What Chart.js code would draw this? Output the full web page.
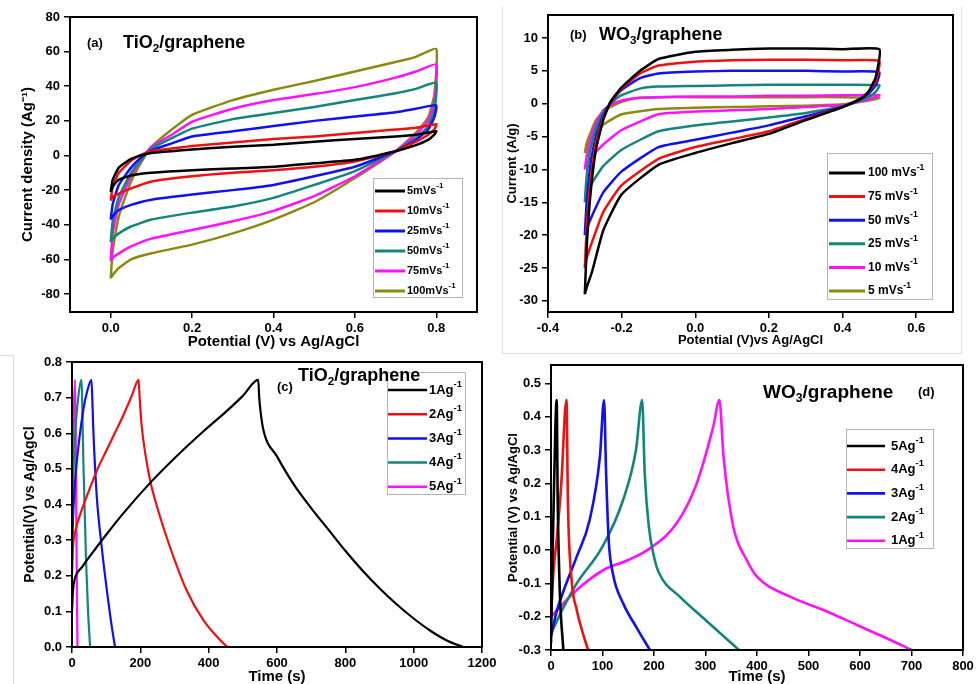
<!DOCTYPE html>
<html>
<head>
<meta charset="utf-8">
<script src="https://cdn.jsdelivr.net/npm/chart.js@4.4.1/dist/chart.umd.min.js"></script>
<style>
  html, body { margin: 0; padding: 0; background: #fff; width: 976px; height: 684px; overflow: hidden; }
  canvas { position: absolute; }
  .rule { position: absolute; border: 0 solid #dcdcdc; }
</style>
</head>
<body>
<div class="rule" style="left:502px;top:6px;width:458px;height:347px;border-left-width:1px;border-right-width:1px;border-bottom-width:1px;"></div>
<div class="rule" style="left:-1px;top:355px;width:14px;height:340px;border-right-width:1px;border-top-width:1px;"></div>
<canvas id="cvA" width="490" height="352" style="left:0;top:0"></canvas>
<canvas id="cvB" width="496" height="352" style="left:480px;top:0"></canvas>
<canvas id="cvC" width="500" height="350" style="left:0;top:340px"></canvas>
<canvas id="cvD" width="488" height="350" style="left:490px;top:340px"></canvas>
<script>
// ---- (a) TiO2/graphene CV : one closed loop per scan rate (forward then reverse sweep)
const aPotential = [0, 0.005, 0.02, 0.05, 0.08, 0.1, 0.15, 0.2, 0.3, 0.4, 0.5, 0.6, 0.7, 0.75, 0.8,
                    0.795, 0.78, 0.75, 0.7, 0.6, 0.5, 0.4, 0.3, 0.2, 0.1, 0.05, 0.02, 0.005, 0];
const a5   = [-21, -14, -7, -2, 0.5, 1.5, 2.5, 3.5, 5, 6.2, 8, 9.5, 11, 12, 14,
              12, 9, 6, 2.5, -2.5, -4.5, -6.5, -7.5, -8.5, -10, -11.5, -14, -18, -21];
const a10  = [-26, -18, -10, -3, 1, 2.5, 4, 5.5, 7.5, 9.5, 11, 13, 15, 16, 18,
              15, 12, 8, 2.5, -3.5, -6.5, -8.5, -10, -12, -15, -19, -22, -24, -26];
const a25  = [-37, -28, -17, -7, 0, 3, 7, 11, 14, 17, 20, 22.5, 25, 27, 29,
              22, 15, 9, 2.5, -6.5, -12, -17, -20, -22.5, -25.5, -28.5, -31.5, -35, -37];
const a50  = [-50, -38, -24, -10, -1, 4, 10, 15.5, 21, 24.5, 28, 32, 36, 38.5, 42,
              26, 17, 10, 2.5, -9, -17, -24.5, -29.5, -33, -37, -41, -45, -48, -50];
const a75  = [-61, -45, -28, -12, -1, 5, 12, 19.5, 27, 32, 35.5, 39.5, 45, 48.5, 52.5,
              30, 20, 12, 2.5, -12, -23.5, -32, -38, -43, -48, -52.5, -56.5, -59, -61];
const a100 = [-71, -55, -35, -15, -2, 5, 15, 23.5, 32, 38, 43, 48.5, 54, 57, 61.5,
              35, 22, 13, 2.5, -13, -27, -37, -45, -51.5, -56.5, -60, -65, -69, -71];
const aLabels = ['5mVs^-1', '10mVs^-1', '25mVs^-1', '50mVs^-1', '75mVs^-1', '100mVs^-1'];
const aXTicks = [0, 0.2, 0.4, 0.6, 0.8];
const aYTicks = [-80, -60, -40, -20, 0, 20, 40, 60, 80];

// ---- (b) WO3/graphene CV
const bPotential = [-0.3, -0.295, -0.285, -0.27, -0.25, -0.23, -0.2, -0.15, -0.1, 0, 0.1, 0.2, 0.3, 0.4, 0.5,
                    0.49, 0.47, 0.45, 0.4, 0.3, 0.2, 0.1, 0, -0.1, -0.2, -0.25, -0.28, -0.295, -0.3];
const b100 = [-29, -22, -14, -7, -2.5, 0.3, 2.5, 5.0, 6.8, 7.9, 8.2, 8.4, 8.4, 8.3, 8.3,
              4.0, 1.8, 0.8, -0.5, -2.5, -4.6, -6.0, -7.5, -9.3, -13.8, -19.3, -25.5, -28, -29];
const b75  = [-25, -19, -12, -6, -2.2, 0.2, 2.3, 4.6, 5.8, 6.4, 6.6, 6.7, 6.7, 6.6, 6.5,
              3.5, 1.8, 0.8, -0.5, -2.3, -4.2, -5.4, -6.6, -8.4, -12.4, -16.5, -21, -23.5, -25];
const b50  = [-20, -15, -9.5, -5, -1.8, 0.1, 2.1, 3.9, 4.6, 4.9, 5.0, 5.0, 5.0, 4.9, 4.8,
              2.8, 1.5, 0.7, -0.5, -1.9, -3.3, -4.4, -5.5, -6.6, -10.3, -13.5, -17, -19, -20];
const b25  = [-15, -11, -7, -3.8, -1.3, 0, 1.3, 2.3, 2.6, 2.7, 2.8, 2.9, 2.9, 2.9, 2.8,
              1.8, 1.0, 0.5, -0.4, -1.4, -2.1, -2.7, -3.3, -4.2, -7.0, -9.5, -12, -14, -15];
const b10  = [-10, -8, -5.5, -3, -1, -0.2, 0.5, 0.9, 1.0, 1.1, 1.1, 1.2, 1.2, 1.3, 1.3,
              1.0, 0.6, 0.4, -0.2, -0.5, -0.8, -1.0, -1.2, -1.6, -4.0, -6.2, -8.0, -9.3, -10];
const b5   = [-7.5, -6, -4.5, -2.5, -1.2, -0.5, 0.3, 0.9, 1.0, 1.0, 1.0, 1.0, 1.0, 1.0, 0.9,
              0.7, 0.5, 0.3, -0.1, -0.3, -0.4, -0.5, -0.6, -0.8, -1.6, -3.2, -5.0, -6.5, -7.5];
const bLabels = ['100 mVs^-1', '75 mVs^-1', '50 mVs^-1', '25 mVs^-1', '10 mVs^-1', '5 mVs^-1'];
const bXTicks = [-0.4, -0.2, 0, 0.2, 0.4, 0.6];
const bYTicks = [-30, -25, -20, -15, -10, -5, 0, 5, 10];

// ---- (c) TiO2/graphene charge-discharge
const c1Time = [0, 3, 8, 30, 72, 100, 150, 228, 300, 384, 450, 500, 545,
                548, 552, 560, 600, 650, 700, 750, 800, 850, 900, 950, 1000, 1050, 1100, 1145];
const c1Volt = [0.10, 0.16, 0.19, 0.225, 0.28, 0.315, 0.375, 0.46, 0.53, 0.605, 0.66, 0.705, 0.75,
                0.70, 0.66, 0.61, 0.535, 0.455, 0.39, 0.33, 0.27, 0.215, 0.165, 0.12, 0.08, 0.045, 0.017, 0];
const c2Time = [0, 3, 10, 25, 50, 75, 100, 125, 150, 175, 195, 198, 204, 215, 228, 250, 287, 335, 384, 433, 455];
const c2Volt = [0.20, 0.28, 0.325, 0.375, 0.44, 0.50, 0.55, 0.60, 0.65, 0.705, 0.75, 0.70, 0.62, 0.54, 0.47, 0.39, 0.28, 0.16, 0.076, 0.02, 0];
const c3Time = [0, 3, 8, 14, 33, 45, 57, 60, 62, 72, 87, 106, 116, 126];
const c3Volt = [0.25, 0.36, 0.45, 0.52, 0.665, 0.72, 0.75, 0.68, 0.62, 0.43, 0.28, 0.13, 0.06, 0];
const c4Time = [0, 3, 8, 16, 28, 30, 33, 41, 47, 53];
const c4Volt = [0.30, 0.45, 0.58, 0.68, 0.75, 0.68, 0.53, 0.245, 0.10, 0];
const c5Time = [0, 2, 5, 9, 11, 13, 16];
const c5Volt = [0.30, 0.52, 0.66, 0.75, 0.60, 0.30, 0];
const cLabels = ['1Ag^-1', '2Ag^-1', '3Ag^-1', '4Ag^-1', '5Ag^-1'];
const cXTicks = [0, 200, 400, 600, 800, 1000, 1200];
const cYTicks = [0, 0.1, 0.2, 0.3, 0.4, 0.5, 0.6, 0.7, 0.8];

// ---- (d) WO3/graphene charge-discharge
const d5Time = [0, 3, 6, 11, 13, 17, 24];
const d5Volt = [-0.28, -0.02, 0.2, 0.45, 0.15, -0.12, -0.3];
const d4Time = [0, 5, 11, 20, 30, 33, 40, 50, 60, 72];
const d4Volt = [-0.2, -0.06, 0.03, 0.2, 0.45, 0.13, -0.09, -0.18, -0.24, -0.3];
const d3Time = [0, 10, 25, 50, 75, 95, 103, 107, 112, 120, 140, 165, 192];
const d3Volt = [-0.26, -0.19, -0.12, -0.02, 0.09, 0.28, 0.45, 0.23, 0.03, -0.07, -0.16, -0.23, -0.3];
const d2Time = [0, 25, 50, 100, 140, 165, 177, 182, 190, 200, 210, 250, 300, 365];
const d2Volt = [-0.25, -0.17, -0.1, 0.01, 0.15, 0.3, 0.45, 0.23, 0.07, -0.02, -0.07, -0.14, -0.21, -0.3];
const d1Time = [0, 50, 102, 150, 192, 244, 283, 315, 327, 335, 354, 380, 400, 464, 529, 594, 659, 700];
const d1Volt = [-0.2, -0.12, -0.06, -0.03, 0.005, 0.08, 0.2, 0.37, 0.45, 0.28, 0.07, -0.03, -0.08, -0.14, -0.18, -0.225, -0.27, -0.3];
const dLabels = ['5Ag^-1', '4Ag^-1', '3Ag^-1', '2Ag^-1', '1Ag^-1'];
const dXTicks = [0, 100, 200, 300, 400, 500, 600, 700, 800];
const dYTicks = [-0.3, -0.2, -0.1, 0, 0.1, 0.2, 0.3, 0.4, 0.5];

const FONT = '"Liberation Sans", Arial, Helvetica, sans-serif';
const BLACK = '#000000', RED = '#f01010', BLUE = '#1010f0', TEAL = '#14857a', MAGENTA = '#ff10ff', OLIVE = '#8a8a10';

const pairs = (xs, ys) => xs.map((x, i) => ({ x: x, y: ys[i] }));

// text with _2 subscripts and ^-1 superscripts, y = middle of the normal text
function drawRich(ctx, text, x, y, size) {
  const parts = text.split(/(_\d+|\^-?\d+)/).filter(s => s);
  ctx.save();
  ctx.fillStyle = '#000';
  ctx.textBaseline = 'middle';
  ctx.textAlign = 'left';
  let cx = x;
  parts.forEach(p => {
    let s = p, fs = size, dy = 0;
    if (p[0] === '_') { s = p.slice(1); fs = size * 0.65; dy = size * 0.3; }
    else if (p[0] === '^') { s = p.slice(1); fs = size * 0.72; dy = -size * 0.45; }
    ctx.font = 'bold ' + fs + 'px ' + FONT;
    ctx.fillText(s, cx, y + dy);
    cx += ctx.measureText(s).width;
  });
  ctx.restore();
}

const framePlugin = {
  id: 'frame',
  afterDatasetsDraw(chart) {
    const { ctx, chartArea: a } = chart;
    ctx.save();
    ctx.strokeStyle = '#000';
    ctx.lineWidth = 2;
    ctx.strokeRect(a.left, a.top, a.right - a.left, a.bottom - a.top);
    ctx.restore();
  }
};

function boxLegend(o) {
  return {
    id: 'boxLegend',
    afterDraw(chart) {
      const ctx = chart.ctx;
      ctx.save();
      ctx.strokeStyle = '#b4b4b4';
      ctx.lineWidth = 1;
      ctx.strokeRect(o.box[0] + 0.5, o.box[1] + 0.5, o.box[2], o.box[3]);
      chart.data.datasets.forEach((ds, i) => {
        const y = o.y0 + i * o.gap;
        ctx.strokeStyle = ds.borderColor;
        ctx.lineWidth = o.lw;
        ctx.beginPath();
        ctx.moveTo(o.x0, y);
        ctx.lineTo(o.x1, y);
        ctx.stroke();
        drawRich(ctx, ds.label, o.tx, y, o.size);
      });
      ctx.restore();
    }
  };
}

function notes(list) {
  return {
    id: 'notes',
    afterDraw(chart) {
      list.forEach(n => drawRich(chart.ctx, n.text, n.x, n.y, n.size));
    }
  };
}

function axis(o) {
  return {
    type: 'linear',
    min: o.min,
    max: o.max,
    afterBuildTicks: s => { s.ticks = o.ticks.map(v => ({ value: v })); },
    afterFit: s => {
      if (o.w !== undefined) s.width = o.w;
      if (o.h !== undefined) s.height = o.h;
    },
    grid: { display: true, drawOnChartArea: false, drawTicks: true, tickLength: 6, color: '#000', lineWidth: 1.5 },
    border: { display: false },
    ticks: {
      color: '#000', padding: o.tp !== undefined ? o.tp : 3, autoSkip: false, maxRotation: 0,
      font: { family: FONT, size: 13, weight: 'bold' },
      callback: o.fmt
    },
    title: {
      display: true, text: o.title, color: '#000',
      font: { family: FONT, size: o.ts, weight: 'bold' },
      padding: o.tpad
    }
  };
}

function series(labels, colors, xs, ys, width) {
  return labels.map((lab, i) => ({
    label: lab,
    data: pairs(xs[i], ys[i]),
    borderColor: colors[i],
    backgroundColor: colors[i],
    borderWidth: width,
    pointRadius: 0,
    showLine: true,
    fill: false
  }));
}

const fix1 = v => Number(v).toFixed(1);
const fix0 = v => String(Math.round(v));

function makeChart(id, cfg) {
  return new Chart(document.getElementById(id), {
    type: 'scatter',
    data: { datasets: cfg.datasets },
    options: {
      responsive: false,
      animation: false,
      layout: { autoPadding: false, padding: cfg.padding },
      elements: { line: cfg.line },
      plugins: { legend: { display: false }, tooltip: { enabled: false } },
      scales: { x: cfg.x, y: cfg.y }
    },
    plugins: [framePlugin, boxLegend(cfg.legend), notes(cfg.notes)]
  });
}

// (a)
makeChart('cvA', {
  datasets: series(aLabels, [BLACK, RED, BLUE, TEAL, MAGENTA, OLIVE],
    [aPotential, aPotential, aPotential, aPotential, aPotential, aPotential],
    [a5, a10, a25, a50, a75, a100], 2.5),
  padding: { left: 0, top: 17, right: 13, bottom: 0 },
  line: { tension: 0.15 },
  x: axis({ min: -0.1, max: 0.9, ticks: aXTicks, fmt: fix1, h: 40, title: 'Potential (V) vs Ag/AgCl', ts: 15, tpad: { top: 0, bottom: 1 } }),
  y: axis({ min: -90.4, max: 80, ticks: aYTicks, fmt: fix0, w: 70, tp: 4, title: 'Current density (Ag\u207B\u00B9)', ts: 15, tpad: { top: 19, bottom: 0 } }),
  legend: { box: [373, 178, 89, 119], y0: 191, gap: 20, x0: 375, x1: 405, tx: 407, size: 11, lw: 3 },
  notes: [{ text: '(a)', x: 87, y: 43, size: 13 }, { text: 'TiO_2/graphene', x: 123, y: 43, size: 18 }]
});

// (b)
makeChart('cvB', {
  datasets: series(bLabels, [BLACK, RED, BLUE, TEAL, MAGENTA, OLIVE],
    [bPotential, bPotential, bPotential, bPotential, bPotential, bPotential],
    [b100, b75, b50, b25, b10, b5], 2.5),
  padding: { left: 0, top: 15, right: 23, bottom: 0 },
  line: { tension: 0.15 },
  x: axis({ min: -0.4, max: 0.7, ticks: bXTicks, fmt: fix1, h: 40, title: 'Potential (V)vs Ag/AgCl', ts: 13, tpad: { top: 0, bottom: 4 } }),
  y: axis({ min: -31.7, max: 13.5, ticks: bYTicks, fmt: fix0, w: 68, tp: 4, title: 'Current (A/g)', ts: 13, tpad: { top: 25, bottom: 0 } }),
  legend: { box: [347, 153, 105, 146], y0: 173, gap: 23.6, x0: 349, x1: 385, tx: 388, size: 12, lw: 3 },
  notes: [{ text: '(b)', x: 90, y: 35, size: 13 }, { text: 'WO_3/graphene', x: 119, y: 35, size: 18 }]
});

// (c)
makeChart('cvC', {
  datasets: series(cLabels, [BLACK, RED, BLUE, TEAL, MAGENTA],
    [c1Time, c2Time, c3Time, c4Time, c5Time],
    [c1Volt, c2Volt, c3Volt, c4Volt, c5Volt], 2.2),
  padding: { left: 0, top: 22, right: 18, bottom: 0 },
  line: { cubicInterpolationMode: 'monotone' },
  x: axis({ min: 0, max: 1200, ticks: cXTicks, fmt: fix0, h: 43, title: 'Time (s)', ts: 15, tpad: { top: 0, bottom: 4 } }),
  y: axis({ min: 0, max: 0.8, ticks: cYTicks, fmt: fix1, w: 72, tp: 4, title: 'Potential(V) vs Ag/AgCl', ts: 14, tpad: { top: 21.6, bottom: 0 } }),
  legend: { box: [387, 32, 78, 122], y0: 50, gap: 24.2, x0: 388, x1: 427, tx: 429, size: 13, lw: 2.5 },
  notes: [{ text: '(c)', x: 277, y: 47, size: 13 }, { text: 'TiO_2/graphene', x: 298, y: 36, size: 18 }]
});

// (d)
makeChart('cvD', {
  datasets: series(dLabels, [BLACK, RED, BLUE, TEAL, MAGENTA],
    [d5Time, d4Time, d3Time, d2Time, d1Time],
    [d5Volt, d4Volt, d3Volt, d2Volt, d1Volt], 2.6),
  padding: { left: 0, top: 25, right: 15, bottom: 0 },
  line: { cubicInterpolationMode: 'monotone' },
  x: axis({ min: 0, max: 800, ticks: dXTicks, fmt: fix0, h: 40, title: 'Time (s)', ts: 15, tpad: { top: 0, bottom: 4 } }),
  y: axis({ min: -0.3, max: 0.555, ticks: dYTicks, fmt: fix1, w: 61, tp: 4, title: 'Potential (V) vs Ag/AgCl', ts: 13, tpad: { top: 15.2, bottom: 0 } }),
  legend: { box: [356, 89, 87, 119], y0: 106, gap: 23.7, x0: 357, x1: 395, tx: 401, size: 13, lw: 2.6 },
  notes: [{ text: 'WO_3/graphene', x: 273, y: 53, size: 19 }, { text: '(d)', x: 428, y: 52, size: 13 }]
});
</script>
</body>
</html>
